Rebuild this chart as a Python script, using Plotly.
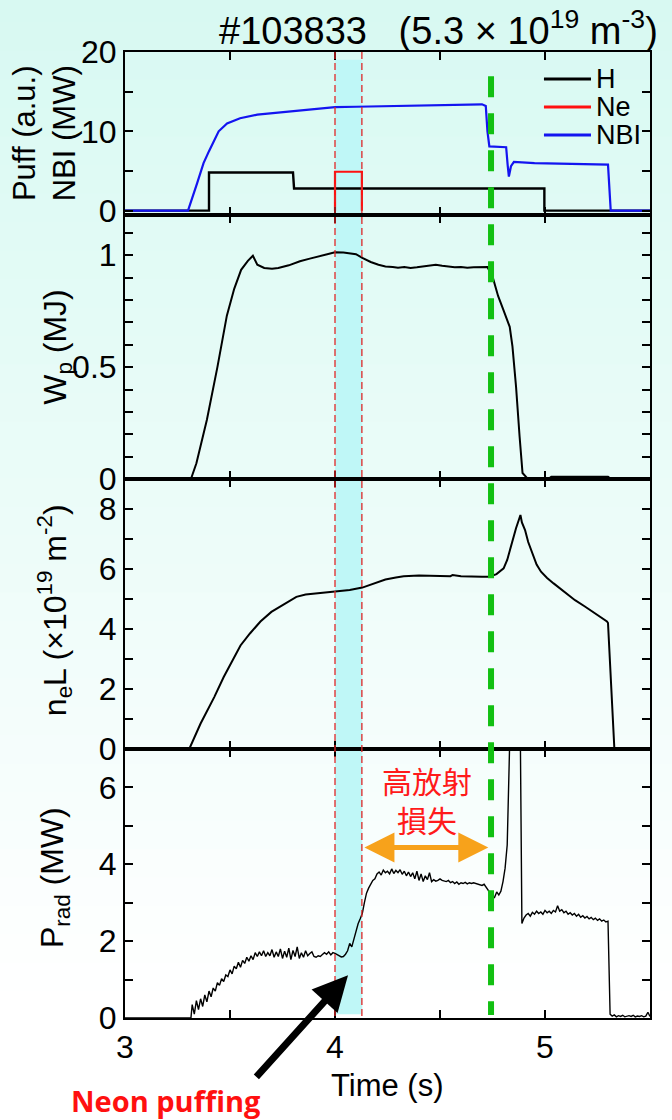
import plotly.graph_objects as go
from plotly.subplots import make_subplots

# ---------------- data ----------------
H_T = [3.00, 3.40, 3.40, 3.80, 3.805, 4.997, 4.997, 5.50]
H_V = [0, 0, 4.8, 4.8, 2.8, 2.8, 0, 0]

NE_T = [4.000, 4.000, 4.128, 4.128]
NE_V = [0, 4.9, 4.9, 0]

NBI_T = [3.00, 3.30, 3.344, 3.374, 3.40, 3.446, 3.486, 3.548, 3.63, 3.73,
         3.83, 3.93, 4.00, 4.10, 4.20, 4.30, 4.40, 4.50, 4.60, 4.70,
         4.718, 4.726, 4.735, 4.815, 4.822, 4.828, 4.838, 4.852, 4.95, 5.05,
         5.15, 5.25, 5.30, 5.313, 5.50]
NBI_V = [0, 0, 3.5, 6.0, 7.5, 10.0, 11.0, 11.65, 12.1, 12.35,
         12.55, 12.85, 13.05, 13.1, 13.15, 13.2, 13.2, 13.3, 13.3, 13.4,
         13.2, 10.0, 8.1, 8.0, 5.8, 4.3, 5.6, 6.15, 6.0, 5.95,
         5.9, 5.85, 5.8, 0, 0]

WP_T = [3.00, 3.314, 3.34, 3.39, 3.44, 3.485, 3.52, 3.553, 3.585, 3.609,
        3.63, 3.663, 3.70, 3.73, 3.78, 3.833, 3.88, 3.92, 3.96, 4.00,
        4.04, 4.07, 4.10, 4.13, 4.17, 4.207, 4.24, 4.275, 4.30, 4.33,
        4.36, 4.39, 4.42, 4.45, 4.48, 4.51, 4.54, 4.57, 4.60, 4.63,
        4.66, 4.69, 4.726, 4.752, 4.777, 4.80, 4.819, 4.832, 4.845, 4.862,
        4.879, 4.893, 4.915, 5.02, 5.03, 5.30, 5.31, 5.50]
WP_V = [0, 0, 0.07, 0.265, 0.50, 0.73, 0.85, 0.935, 0.975, 0.998,
        0.958, 0.943, 0.940, 0.943, 0.955, 0.973, 0.985, 0.995, 1.005, 1.013,
        1.012, 1.010, 1.005, 0.988, 0.970, 0.958, 0.950, 0.948, 0.944, 0.947,
        0.943, 0.946, 0.950, 0.955, 0.958, 0.953, 0.950, 0.946, 0.948, 0.944,
        0.946, 0.945, 0.947, 0.899, 0.817, 0.76, 0.712, 0.68, 0.593, 0.414,
        0.19, 0.027, 0.004, 0.003, 0.010, 0.010, 0.003, 0.003]

NEL_T = [3.00, 3.306, 3.36, 3.425, 3.47, 3.51, 3.55, 3.595, 3.645, 3.697,
         3.76, 3.816, 3.86, 3.90, 3.95, 4.00, 4.07, 4.13, 4.18, 4.24,
         4.29, 4.327, 4.40, 4.50, 4.55, 4.56, 4.60, 4.70, 4.735, 4.769,
         4.803, 4.82, 4.837, 4.862, 4.876, 4.883, 4.89, 4.905, 4.92, 4.939,
         4.96, 4.981, 5.01, 5.041, 5.09, 5.143, 5.19, 5.228, 5.26, 5.295,
         5.30, 5.313, 5.33, 5.335, 5.50]
NEL_V = [0, 0, 0.85, 1.73, 2.40, 2.95, 3.45, 3.85, 4.25, 4.57,
         4.85, 5.07, 5.15, 5.18, 5.22, 5.27, 5.30, 5.38, 5.50, 5.65,
         5.72, 5.76, 5.78, 5.78, 5.76, 5.80, 5.76, 5.74, 5.74, 5.83,
         6.02, 6.30, 6.74, 7.36, 7.65, 7.80, 7.55, 7.30, 6.90, 6.52,
         6.15, 5.91, 5.70, 5.52, 5.25, 4.96, 4.75, 4.57, 4.42, 4.25,
         4.20, 2.28, 0.05, 0, 0]

# Prad: leading zero level, 0.01 s samples 3.32-4.82, spike, 0.01 s samples 4.89-5.30, tail 5.31-5.50
PRAD_LEAD_T = [3.00, 3.314]
PRAD_LEAD_V = [0, 0]
PRAD_A_START = 3.32
PRAD_A = [0.35, 0.10, 0.45, 0.22, 0.50, 0.30, 0.60, 0.42,
          0.70, 0.55, 0.78, 0.70, 0.92, 0.85, 1.02, 0.95, 1.12, 1.08,
          1.25, 1.15, 1.35, 1.28, 1.45, 1.32, 1.50, 1.42, 1.58, 1.48,
          1.62, 1.52, 1.70, 1.60, 1.72, 1.62, 1.75, 1.60, 1.70, 1.62,
          1.78, 1.58, 1.72, 1.60, 1.80, 1.55, 1.74, 1.58, 1.82, 1.52,
          1.76, 1.60, 1.85, 1.55, 1.70, 1.58, 1.75, 1.62, 1.68, 1.72,
          1.60, 1.58, 1.62, 1.60, 1.65, 1.70, 1.66, 1.72, 1.64, 1.70,
          1.68, 1.65, 1.62, 1.59, 1.60, 1.66, 1.75, 1.94, 1.85, 2.05,
          2.30, 2.45, 2.58, 2.72, 3.00, 3.25, 3.38, 3.50, 3.58, 3.62,
          3.75, 3.80, 3.72, 3.85, 3.78, 3.82, 3.75, 3.88, 3.76, 3.84,
          3.78, 3.86, 3.74, 3.82, 3.70, 3.80, 3.68, 3.78, 3.62, 3.82,
          3.58, 3.75, 3.55, 3.70, 3.60, 3.78, 3.55, 3.60, 3.56, 3.58,
          3.62, 3.58, 3.56, 3.55, 3.58, 3.52, 3.55, 3.50, 3.54, 3.48,
          3.52, 3.50, 3.53, 3.49, 3.52, 3.50, 3.52, 3.50, 3.49, 3.46,
          3.45, 3.48, 3.40, 3.32, 3.20, 3.10, 3.14, 3.28, 3.20, 3.30,
          3.55, 3.90, 4.50]
PRAD_SPIKE_T = [4.825, 4.83, 4.835, 4.84, 4.88, 4.885]
PRAD_SPIKE_V = [5.3, 6.3, 7.6, 9.0, 9.0, 4.0]
PRAD_B_START = 4.89
PRAD_B = [2.46,
          2.60, 2.68, 2.72, 2.65, 2.75, 2.70, 2.78, 2.72, 2.76, 2.70,
          2.80, 2.74, 2.78, 2.72, 2.80, 2.76, 2.92, 2.78, 2.82, 2.74,
          2.78, 2.70, 2.74, 2.68, 2.72, 2.65, 2.70, 2.62, 2.66, 2.60,
          2.64, 2.58, 2.62, 2.56, 2.60, 2.54, 2.58, 2.52, 2.55, 2.50,
          2.52]
PRAD_C_START = 5.31
PRAD_C = [0.10, 0.05, 0.08, 0.03, 0.06, 0.04, 0.07, 0.03, 0.05, 0.06,
          0.04, 0.07, 0.03, 0.05, 0.04, 0.06, 0.03, 0.05, 0.15, 0.04]

X_TICKS = [3, 3.5, 4, 4.5, 5]
X_LABELS = ["3", "", "4", "", "5"]
Y1_TICKS = [0, 5, 10, 15, 20]
Y1_LABELS = ["0", "", "10", "", "20"]
Y2_TICKS = [0, 0.1, 0.2, 0.3, 0.4, 0.5, 0.6, 0.7, 0.8, 0.9, 1.0, 1.1]
Y2_LABELS = ["0", "", "", "", "", "0.5", "", "", "", "", "1", ""]
Y3_TICKS = [0, 1, 2, 3, 4, 5, 6, 7, 8, 9]
Y3_LABELS = ["0", "", "2", "", "4", "", "6", "", "8", ""]
Y4_TICKS = [0, 1, 2, 3, 4, 5, 6, 7]
Y4_LABELS = ["0", "", "2", "", "4", "", "6", ""]

LEGEND_NAMES = ["H", "Ne", "NBI"]
LEGEND_COLORS = ["black", "#ff1010", "#1414f0"]

NE_START, NE_END = 4.0, 4.128
BAND_END = 4.13
COLLAPSE_T = 4.743
ARROW_Y = 4.44


def grid(start, vals):
    return [round(start + 0.01 * i, 3) for i in range(len(vals))]


PRAD_T = PRAD_LEAD_T + grid(PRAD_A_START, PRAD_A) + PRAD_SPIKE_T + grid(PRAD_B_START, PRAD_B) + grid(PRAD_C_START, PRAD_C)
PRAD_V = PRAD_LEAD_V + PRAD_A + PRAD_SPIKE_V + PRAD_B + PRAD_C

FONT = "Arial, Liberation Sans, sans-serif"

fig = make_subplots(rows=4, cols=1, shared_xaxes=True, vertical_spacing=0,
                    row_heights=[163, 264, 270, 269])

fig.add_trace(go.Scatter(x=H_T, y=H_V, mode="lines", name=LEGEND_NAMES[0],
                         line=dict(color=LEGEND_COLORS[0], width=2.4)), row=1, col=1)
fig.add_trace(go.Scatter(x=NE_T, y=NE_V, mode="lines", name=LEGEND_NAMES[1],
                         line=dict(color=LEGEND_COLORS[1], width=2.2)), row=1, col=1)
fig.add_trace(go.Scatter(x=NBI_T, y=NBI_V, mode="lines", name=LEGEND_NAMES[2],
                         line=dict(color=LEGEND_COLORS[2], width=2.2)), row=1, col=1)
fig.add_trace(go.Scatter(x=WP_T, y=WP_V, mode="lines", name="Wp",
                         line=dict(color="black", width=2)), row=2, col=1)
fig.add_trace(go.Scatter(x=NEL_T, y=NEL_V, mode="lines", name="neL",
                         line=dict(color="black", width=2)), row=3, col=1)
fig.add_trace(go.Scatter(x=PRAD_T, y=PRAD_V, mode="lines", name="Prad",
                         line=dict(color="black", width=1.4)), row=4, col=1)

axis_common = dict(showline=True, linecolor="black", linewidth=2, mirror="ticks",
                   ticks="inside", ticklen=8, tickwidth=2, tickcolor="black",
                   showgrid=False, zeroline=False,
                   tickfont=dict(family=FONT, size=32, color="black"))

for r in range(1, 5):
    fig.update_xaxes(range=[3, 5.5], tickmode="array", tickvals=X_TICKS, ticktext=X_LABELS,
                     showticklabels=(r == 4), row=r, col=1, **axis_common)

fig.update_yaxes(range=[-0.55, 20], tickmode="array", tickvals=Y1_TICKS, ticktext=Y1_LABELS,
                 row=1, col=1, **axis_common)
fig.update_yaxes(range=[0, 1.18], tickmode="array", tickvals=Y2_TICKS, ticktext=Y2_LABELS,
                 row=2, col=1, **axis_common)
fig.update_yaxes(range=[0, 9], tickmode="array", tickvals=Y3_TICKS, ticktext=Y3_LABELS,
                 row=3, col=1, **axis_common)
fig.update_yaxes(range=[0, 7], tickmode="array", tickvals=Y4_TICKS, ticktext=Y4_LABELS,
                 row=4, col=1, **axis_common)

# background gradient (light mint at top fading to white)
shapes = []
nb = 40
for i in range(nb):
    f = i / (nb - 1)
    c0 = (216, 249, 242)
    col = tuple(int(round(c0[k] + (255 - c0[k]) * min(1.0, f * 1.12))) for k in range(3))
    y_top = 1.06 - i * (1.18 / nb)
    shapes.append(dict(type="rect", xref="paper", yref="paper", x0=-0.3, x1=1.1,
                       y0=y_top - 1.18 / nb - 0.002, y1=y_top, layer="below",
                       fillcolor="rgb(%d,%d,%d)" % col, line=dict(width=0)))
# cyan band of Ne puffing
shapes.append(dict(type="rect", xref="x", yref="paper", x0=NE_START, x1=BAND_END,
                   y0=0.004, y1=0.992, layer="below", fillcolor="#bff7f7", line=dict(width=0)))
# red dashed lines
for xv in (NE_START, NE_END):
    shapes.append(dict(type="line", xref="x", yref="paper", x0=xv, x1=xv, y0=1, y1=0,
                       layer="above", line=dict(color="#e02828", width=1.3, dash="7px,4px")))
# green collapse line
shapes.append(dict(type="line", xref="x", yref="paper", x0=COLLAPSE_T, x1=COLLAPSE_T,
                   y0=0.975, y1=0.003, layer="above",
                   line=dict(color="#12c012", width=6, dash="21px,16px")))

annotations = [
    dict(text="#103833&nbsp;&nbsp;&nbsp;(5.3 × 10<sup>19</sup> m<sup>-3</sup>)", xref="paper", yref="paper",
         x=0.598, y=1.0245, showarrow=False, xanchor="center", yanchor="middle",
         font=dict(family=FONT, size=38, color="black")),
    dict(text="Puff (a.u.)<br>NBI (MW)", xref="paper", yref="paper", x=-0.154, y=0.916,
         textangle=-90, showarrow=False, xanchor="center", yanchor="middle",
         font=dict(family=FONT, size=31, color="black")),
    dict(text="W<sub>p</sub> (MJ)", xref="paper", yref="paper", x=-0.13, y=0.6946,
         textangle=-90, showarrow=False, xanchor="center", yanchor="middle",
         font=dict(family=FONT, size=32, color="black")),
    dict(text="n<sub>e</sub>L (×10<sup>19</sup> m<sup>-2</sup>)", xref="paper", yref="paper",
         x=-0.133, y=0.4224, textangle=-90, showarrow=False, xanchor="center", yanchor="middle",
         font=dict(family=FONT, size=32, color="black")),
    dict(text="P<sub>rad</sub> (MW)", xref="paper", yref="paper", x=-0.133, y=0.145,
         textangle=-90, showarrow=False, xanchor="center", yanchor="middle",
         font=dict(family=FONT, size=32, color="black")),
    dict(text="Time (s)", xref="paper", yref="paper", x=0.5, y=-0.0694,
         showarrow=False, xanchor="center", yanchor="middle",
         font=dict(family=FONT, size=31, color="black")),
    dict(text="高放射<br>損失", xref="x4", yref="y4", x=4.438, y=5.68, showarrow=False,
         xanchor="center", yanchor="middle",
         font=dict(family="Noto Sans CJK TC", size=30, color="#ff1a1a")),
    dict(text="", xref="x4", yref="y4", x=COLLAPSE_T - 0.013, y=ARROW_Y,
         axref="x4", ayref="y4", ax=BAND_END + 0.003, ay=ARROW_Y, showarrow=True,
         arrowside="end+start", arrowhead=2, startarrowhead=2, arrowsize=1.2,
         startarrowsize=1.2, arrowwidth=5, arrowcolor="#f7a21b"),
    dict(text="", xref="x4", yref="y4", x=4.062, y=1.11, ax=-93, ay=103, showarrow=True,
         arrowhead=2, arrowsize=1.0, arrowwidth=7, arrowcolor="black"),
    dict(text="<b>Neon puffing</b>", xref="paper", yref="paper", x=0.078, y=-0.0849,
         showarrow=False, xanchor="center", yanchor="middle",
         font=dict(family="Open Sans", size=29, color="#ff1010")),
]

# legend drawn as key lines + labels in the top-right corner of the first panel
leg_y = [0.972, 0.943, 0.914]
for name, colr, yy in zip(LEGEND_NAMES, LEGEND_COLORS, leg_y):
    shapes.append(dict(type="line", xref="paper", yref="paper", x0=0.798, x1=0.8876,
                       y0=yy, y1=yy, layer="above", line=dict(color=colr, width=3)))
    annotations.append(dict(text=name, xref="paper", yref="paper", x=0.893, y=yy,
                            showarrow=False, xanchor="left", yanchor="middle",
                            font=dict(family=FONT, size=27, color="black")))

fig.update_layout(
    width=672, height=1120,
    margin=dict(l=125, r=22, t=52, b=102),
    paper_bgcolor="white", plot_bgcolor="rgba(0,0,0,0)",
    shapes=shapes, annotations=annotations,
    showlegend=False,
)

fig.write_html("out.html")
